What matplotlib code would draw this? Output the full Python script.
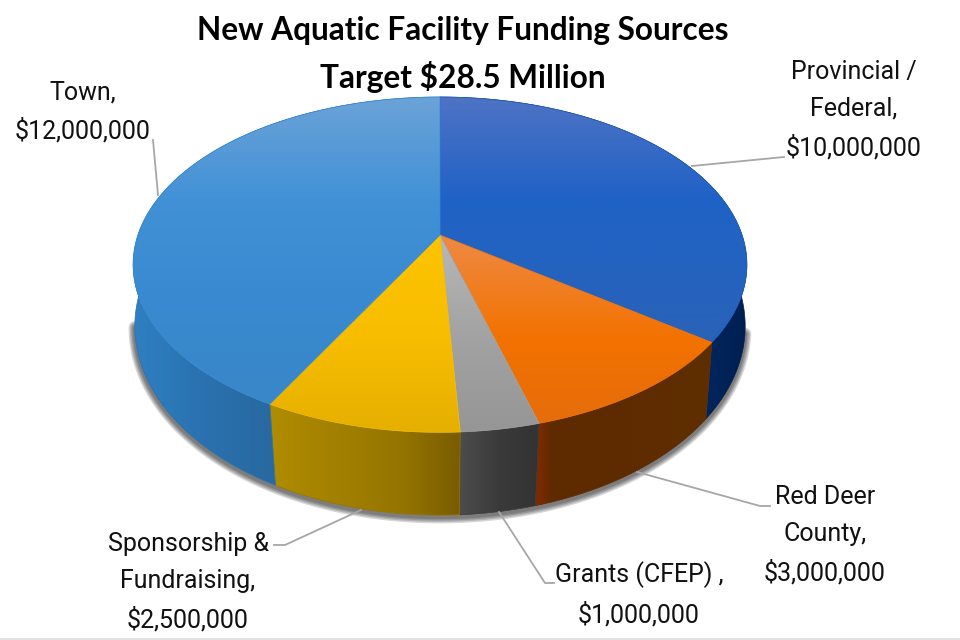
"""New Aquatic Facility funding sources, drawn as a perspective 3D pie."""

import matplotlib
matplotlib.use("Agg")
import matplotlib.pyplot as plt
import numpy as np
from matplotlib.colors import to_rgb
from matplotlib.patches import Polygon

TITLE = "New Aquatic Facility Funding Sources\nTarget $28.5 Million"
labels = [
    "Provincial /\nFederal,\n$10,000,000",
    "Red Deer\nCounty,\n$3,000,000",
    "Grants (CFEP) ,\n$1,000,000",
    "Sponsorship &\nFundraising,\n$2,500,000",
    "Town,\n$12,000,000",
]
values = [10_000_000, 3_000_000, 1_000_000, 2_500_000, 12_000_000]

# vertical gradient of each top face, (pixel y, colour)
top_colours = [
    [(97, "#4f73c4"), (200, "#1f62c6"), (345, "#2a62b8")],
    [(235, "#ee8a45"), (340, "#f37200"), (425, "#e56d0c")],
    [(235, "#b8b8b8"), (340, "#a2a2a2"), (432, "#969696")],
    [(235, "#fdc400"), (340, "#f7bd00"), (432, "#e6b000")],
    [(97, "#6ba3d8"), (200, "#4291d6"), (300, "#388ad0"), (404, "#3a86c8")],
]
# horizontal gradient of each side face, (pixel x, colour)
side_colours = [
    [(707, "#00265e"), (748, "#001f50")],
    [(538, "#7e2a00"), (552, "#5e2a00"), (713, "#5f2e00")],
    [(460, "#4c4c4c"), (500, "#3a3a3a"), (540, "#333333")],
    [(270, "#b08c00"), (400, "#957500"), (460, "#7a5c00")],
    [(132, "#2f80c2"), (200, "#2a72b0"), (272, "#2869a0")],
]
label_xy = [(854, 110), (825, 535), (639, 594), (188, 582), (83, 112)]
leaders = [
    [(692, 166), (784, 157)],
    [(637, 472), (760, 506), (770, 506)],
    [(499, 512), (545, 583), (554, 583)],
    [(361, 510), (285, 545), (274, 545)],
    [(158, 195), (153, 140)],
]

CX = 440
TOP_CY, TOP_A, TOP_B, TOP_K = 235, 162.4, 302, 0.177
BOT_CY, BOT_A, BOT_B, BOT_K = 299, 185, 302, 0.144


def project(theta, cy, a, b, k):
    # theta runs clockwise from 12 o'clock; near points get bigger
    w = 1 + k * np.cos(theta)
    return np.column_stack([CX + b * np.sin(theta) / w, cy - a * np.cos(theta) / w])


def gradient_fill(ax, pts, stops, axis, zorder):
    lo, hi = pts.min(axis=0), pts.max(axis=0)
    pos = [s[0] for s in stops]
    rgb = np.array([to_rgb(s[1]) for s in stops])
    coord = np.arange(np.floor(lo[axis]), np.ceil(hi[axis]) + 1)
    ramp = np.column_stack([np.interp(coord, pos, rgb[:, i]) for i in range(3)])
    grad = ramp[:, None, :] if axis == 1 else ramp[None, :, :]
    im = ax.imshow(grad, extent=(lo[0], hi[0], hi[1], lo[1]), aspect="auto",
                   interpolation="bilinear", zorder=zorder)
    clip = Polygon(pts, closed=True, transform=ax.transData)
    im.set_clip_path(clip)
    mid = rgb[len(rgb) // 2]
    ax.add_patch(Polygon(pts, closed=True, fill=False, ec=mid, lw=0.5, zorder=zorder))


fig = plt.figure(figsize=(9.6, 6.4), dpi=100)
ax = fig.add_axes([0, 0, 1, 1])

edges = 2 * np.pi * np.concatenate([[0], np.cumsum(values)]) / np.sum(values)

# soft shadow under the front rim
rim = project(np.linspace(np.radians(100), np.radians(262), 200), BOT_CY + 2, BOT_A, BOT_B, BOT_K)
for lw in (9, 7, 5, 3):
    ax.plot(rim[:, 0], rim[:, 1], color="black", lw=lw, alpha=0.16, zorder=1,
            solid_capstyle="round")

for start, stop, colours in zip(edges[:-1], edges[1:], side_colours):
    t = np.linspace(start, stop, 160)
    pts = np.vstack([project(t, TOP_CY, TOP_A, TOP_B, TOP_K),
                     project(t[::-1], BOT_CY, BOT_A, BOT_B, BOT_K)])
    gradient_fill(ax, pts, colours, 0, 2)

for start, stop, colours in zip(edges[:-1], edges[1:], top_colours):
    t = np.linspace(start, stop, 160)
    pts = np.vstack([[[CX, TOP_CY]], project(t, TOP_CY, TOP_A, TOP_B, TOP_K)])
    gradient_fill(ax, pts, colours, 1, 3)

for line in leaders:
    xs, ys = zip(*line)
    ax.plot(xs, ys, color="#a6a6a6", lw=1.3, zorder=4)

for text, (x, y) in zip(labels, label_xy):
    ax.text(x, y, text, ha="center", va="center", fontsize=18, color="#111111",
            family="Roboto", linespacing=1.69, zorder=5)

ax.text(463, 54.5, TITLE, ha="center", va="center", fontsize=22.8, fontweight="bold",
        color="black", family="Lato", linespacing=1.59, zorder=5)

ax.axhspan(638, 640, color="#e2e2e2", lw=0, zorder=0)
ax.set_xlim(0, 960)
ax.set_ylim(640, 0)
ax.axis("off")
fig.savefig("out.png", dpi=100, facecolor="white")
